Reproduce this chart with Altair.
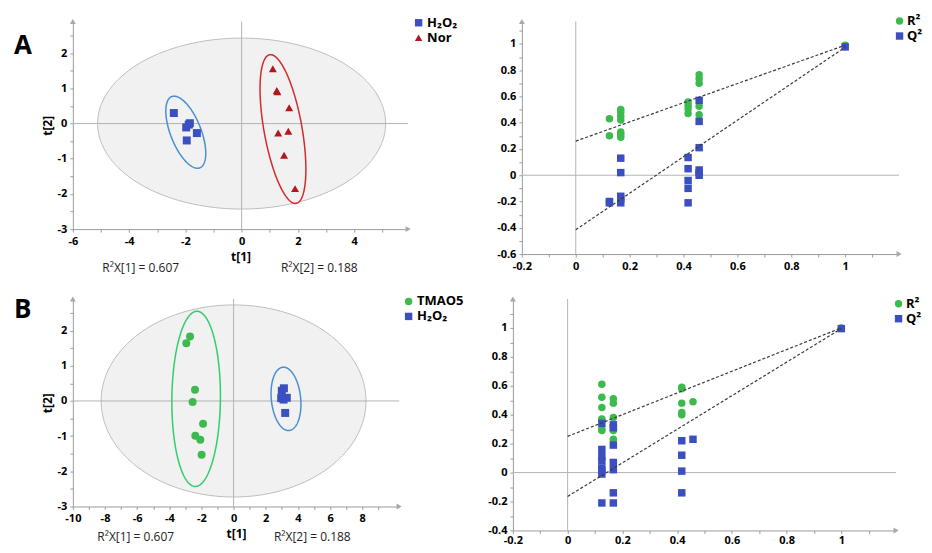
import altair as alt
import numpy as np
import pandas as pd

FONT = "Open Sans"
BLUE = "#3b4fc0"
RED = "#b3161c"
GREEN = "#3dba4e"
ELL_BLUE = "#4a90d0"
ELL_RED = "#d42a2a"
ELL_GREEN = "#2fcf6a"

# ---------------- Panel A (score plot) ----------------
a_h2o2_t1 = [-2.41, -1.84, -1.88, -1.97, -1.59, -1.95]
a_h2o2_t2 = [0.30, 0.01, -0.03, -0.11, -0.27, -0.48]
a_nor_t1 = [1.11, 1.25, 1.27, 1.69, 1.30, 1.66, 1.51, 1.90]
a_nor_t2 = [1.56, 0.94, 0.90, 0.45, -0.27, -0.22, -0.90, -1.85]
# ellipse parameters: centre x, centre y, x-radius, x-shear, y-radius
a_big_ellipse = [0.0, 0.0, 5.12, 0.0, 2.43]
a_h2o2_ellipse = [-1.985, -0.245, 0.576, -0.415, 1.025]
a_nor_ellipse = [1.47, -0.155, 0.686, -0.44, 2.115]

# ---------------- Panel B (score plot) ----------------
b_tmao_t1 = [-2.71, -2.94, -2.40, -2.55, -1.90, -2.38, -2.07, -1.99]
b_tmao_t2 = [1.83, 1.64, 0.32, -0.03, -0.65, -0.99, -1.10, -1.53]
b_h2o2_t1 = [3.13, 3.00, 2.96, 3.31, 3.11, 3.21]
b_h2o2_t2 = [0.36, 0.29, 0.08, 0.09, 0.04, -0.34]
b_big_ellipse = [0.0, 0.0, 8.24, 0.0, 2.73]
b_tmao_ellipse = [-2.33, 0.06, 1.51, 0.05, 2.49]
b_h2o2_ellipse = [3.26, 0.06, 0.917, -0.155, 0.90]

# ---------------- Permutation plot A ----------------
pa_r2_x = [0.125] * 2 + [0.167] * 7 + [0.417] * 4 + [0.458] * 5 + [1.0]
pa_r2_y = [0.43, 0.30, 0.50, 0.48, 0.45, 0.42, 0.33, 0.31, 0.29,
           0.557, 0.53, 0.505, 0.47, 0.766, 0.735, 0.70, 0.525, 0.46, 0.99]
pa_q2_x = [0.125] * 2 + [0.167] * 5 + [0.417] * 5 + [0.458] * 6 + [1.0]
pa_q2_y = [-0.20, -0.21, 0.13, 0.02, -0.16, -0.18, -0.21,
           0.135, 0.05, -0.04, -0.10, -0.21,
           0.57, 0.41, 0.21, 0.04, 0.02, 0.00, 0.977]
pa_line_x = [0.0, 1.0]
pa_r2_line = [0.26, 0.99]
pa_q2_line = [-0.415, 0.975]

# ---------------- Permutation plot B ----------------
pb_r2_x = [0.125] * 7 + [0.167] * 5 + [0.417] * 5 + [0.458] + [1.0]
pb_r2_y = [0.61, 0.52, 0.45, 0.37, 0.36, 0.30, 0.29,
           0.51, 0.48, 0.38, 0.29, 0.23,
           0.59, 0.58, 0.48, 0.415, 0.40, 0.49, 1.0]
pb_q2_x = [0.125] * 8 + [0.167] * 7 + [0.417] * 4 + [0.458] + [1.0]
pb_q2_y = [0.34, 0.16, 0.11, 0.08, 0.03, 0.015, -0.01, -0.21,
           0.33, 0.31, 0.19, 0.07, 0.02, -0.14, -0.21,
           0.22, 0.12, 0.01, -0.14, 0.23, 0.995]
pb_line_x = [0.0, 1.0]
pb_r2_line = [0.25, 1.0]
pb_q2_line = [-0.165, 0.995]

panel_letters = ["A", "B"]
r2x_texts = ["R\u00b2X[1] = 0.607", "R\u00b2X[2] = 0.188"]
H2O2 = "H\u2082O\u2082"


def ellipse_df(p, n=240):
    cx, cy, rx, sx, ry = p
    t = np.linspace(0, 2 * np.pi, n)
    return pd.DataFrame({"x": cx + rx * np.cos(t) + sx * np.sin(t),
                         "y": cy + ry * np.sin(t), "i": np.arange(n)})


def axis(values, expr, title, tpad, lpad=3):
    return alt.Axis(values=values, labelExpr=expr, title=title, grid=False,
                    domainColor="#9c9c9c", tickColor="#9c9c9c", tickSize=3,
                    labelFont=FONT, labelFontSize=11, labelFontWeight="bold",
                    labelColor="black", labelPadding=lpad, labelFlush=False,
                    labelOverlap=False,
                    titleFont=FONT, titleFontSize=12, titleFontWeight="bold",
                    titleColor="black", titlePadding=tpad)


def legend(lx, ly, off=2):
    return alt.Legend(title=None, orient="none", legendX=lx, legendY=ly,
                      labelFont=FONT, labelFontSize=13, labelFontWeight="bold",
                      labelColor="black", symbolSize=55, symbolStrokeWidth=0,
                      padding=0, rowPadding=1, labelOffset=off)


def anchor(px, py):
    # invisible layout helper that fixes the page extent
    return alt.Chart(pd.DataFrame({"a": [0]})).mark_point(
        opacity=0, size=1).encode(x=alt.value(px), y=alt.value(py))


def common_layers(xs, ys, xa, ya, xdom, ydom):
    X = lambda: alt.X("x:Q", scale=xs, axis=xa)
    Y = lambda: alt.Y("y:Q", scale=ys, axis=ya)
    zero = pd.DataFrame({"x": [0.0], "y": [0.0]})
    vline = alt.Chart(zero).mark_rule(color="#b4b4b4", strokeWidth=1).encode(x=X())
    hline = alt.Chart(zero).mark_rule(color="#b4b4b4", strokeWidth=1).encode(y=Y())
    arx = alt.Chart(pd.DataFrame({"x": [xdom[1]], "y": [ydom[0]]})).mark_point(
        shape="triangle-right", filled=True, color="#a8a8a8", size=35, opacity=1
    ).encode(x=X(), y=Y())
    ary = alt.Chart(pd.DataFrame({"x": [xdom[0]], "y": [ydom[1]]})).mark_point(
        shape="triangle-up", filled=True, color="#a8a8a8", size=35, opacity=1
    ).encode(x=X(), y=Y())
    return X, Y, vline, hline, arx, ary


def score_panel(w, h, xdom, ydom, xticks, yticks, big, ells, groups, leg, letter, letter_y,
                txt_x, txt_y, anchor_y):
    xs = alt.Scale(domain=xdom, nice=False, zero=False)
    ys = alt.Scale(domain=ydom, nice=False, zero=False)
    xa = axis(xticks, "datum.value % 2 === 0 ? '' + datum.value : ''", "t[1]", 5)
    ya = axis(yticks, "datum.value % 1 === 0 ? '' + datum.value : ''", "t[2]", 3)
    X, Y, vline, hline, arx, ary = common_layers(xs, ys, xa, ya, xdom, ydom)
    bigl = alt.Chart(ellipse_df(big)).mark_line(
        fill="#f1f1f1", stroke="#bdbdbd", strokeWidth=1
    ).encode(x=X(), y=Y(), order="i:Q")
    layers = [bigl, vline, hline]
    for p, c in ells:
        layers.append(alt.Chart(ellipse_df(p)).mark_line(stroke=c, strokeWidth=1.5)
                      .encode(x=X(), y=Y(), order="i:Q"))
    rows = []
    for name, t1, t2 in groups["data"]:
        for a, b in zip(t1, t2):
            rows.append({"x": a, "y": b, "g": name})
    pts = pd.DataFrame(rows)
    lg = legend(*leg)
    dom = [g[0] for g in groups["data"]]
    layers.append(alt.Chart(pts).mark_point(filled=True, size=64, opacity=1).encode(
        x=X(), y=Y(),
        color=alt.Color("g:N", scale=alt.Scale(domain=dom, range=groups["colors"]), legend=lg),
        shape=alt.Shape("g:N", scale=alt.Scale(domain=dom, range=groups["shapes"]), legend=lg),
    ))
    layers += [arx, ary]
    layers.append(alt.Chart(pd.DataFrame({"t": [letter]})).mark_text(
        font=FONT, fontSize=26, fontWeight="bold", color="black", align="left",
        baseline="alphabetic").encode(text="t:N", x=alt.value(-59), y=alt.value(letter_y)))
    for t, px in zip(r2x_texts, txt_x):
        layers.append(alt.Chart(pd.DataFrame({"t": [t]})).mark_text(
            font=FONT, fontSize=12, color="#222222", align="center",
            baseline="alphabetic").encode(text="t:N", x=alt.value(px), y=alt.value(txt_y)))
    layers.append(anchor(-80, anchor_y))
    return alt.layer(*layers).resolve_scale(color="independent", shape="independent").properties(width=w, height=h)


def perm_panel(w, h, xdom, ydom, xticks, yticks, r2x, r2y, q2x, q2y, lx, r2l, q2l, leg, lpad, anc=None):
    xs = alt.Scale(domain=xdom, nice=False, zero=False)
    ys = alt.Scale(domain=ydom, nice=False, zero=False)
    ex = "abs(round(datum.value * 10)) % 2 === 0 ? '' + datum.value : ''"
    xa = axis(xticks, ex, None, 3, lpad)
    ya = axis(yticks, ex, None, 3)
    X, Y, vline, hline, arx, ary = common_layers(xs, ys, xa, ya, xdom, ydom)
    ldf = pd.DataFrame({"x": lx + lx, "y": r2l + q2l, "s": ["R", "R", "Q", "Q"]})
    lines = alt.Chart(ldf).mark_line(color="#3a3a3a", strokeWidth=1.2, strokeDash=[3, 2]).encode(
        x=X(), y=Y(), detail="s:N")
    pts = pd.DataFrame({"x": r2x + q2x, "y": r2y + q2y,
                        "m": ["R\u00b2"] * len(r2x) + ["Q\u00b2"] * len(q2x)})
    lg = legend(*leg, off=1)
    dom = ["R\u00b2", "Q\u00b2"]
    p = alt.Chart(pts).mark_point(filled=True, size=56, opacity=1).encode(
        x=X(), y=Y(),
        color=alt.Color("m:N", scale=alt.Scale(domain=dom, range=[GREEN, BLUE]), legend=lg),
        shape=alt.Shape("m:N", scale=alt.Scale(domain=dom, range=["circle", "square"]), legend=lg),
    )
    layers = [vline, hline, p, lines, arx, ary]
    if anc is not None:
        layers.append(anchor(*anc))
    return alt.layer(*layers).resolve_scale(
        color="independent", shape="independent").properties(width=w, height=h)


ticks_a_x = list(range(-6, 6))
ticks_b_x = list(range(-10, 10))
ticks_y = [round(v * 0.5, 1) for v in range(-6, 6)]
perm_x = [round(v * 0.1, 1) for v in range(-2, 12)]
perm_ya = [round(v * 0.1, 1) for v in range(-6, 12)]
perm_yb = [round(v * 0.1, 1) for v in range(-4, 12)]

tl = score_panel(336, 208, [-6, 5.92], [-3, 2.9], ticks_a_x, ticks_y, a_big_ellipse,
                 [(a_h2o2_ellipse, ELL_BLUE), (a_nor_ellipse, ELL_RED)],
                 {"data": [(H2O2, a_h2o2_t1, a_h2o2_t2), ("Nor", a_nor_t1, a_nor_t2)],
                  "colors": [BLUE, RED], "shapes": ["square", "triangle-up"]},
                 (340, -5.3), panel_letters[0], 33, [68, 247], 251, -30)
tr = perm_panel(378, 233, [-0.2, 1.2], [-0.6, 1.17], perm_x, perm_ya,
                pa_r2_x, pa_r2_y, pa_q2_x, pa_q2_y, pa_line_x, pa_r2_line, pa_q2_line, (372, -7), 3)
bl = score_panel(327, 208, [-10, 10.3], [-3, 2.9], ticks_b_x, ticks_y, b_big_ellipse,
                 [(b_tmao_ellipse, ELL_GREEN), (b_h2o2_ellipse, ELL_BLUE)],
                 {"data": [("TMAO5", b_tmao_t1, b_tmao_t2), (H2O2, b_h2o2_t1, b_h2o2_t2)],
                  "colors": [GREEN, BLUE], "shapes": ["circle", "square"]},
                 (330, -4), panel_letters[1], 19, [63, 240], 243, 100)
br = perm_panel(384, 232, [-0.2, 1.2], [-0.4, 1.2], perm_x, perm_yb,
                pb_r2_x, pb_r2_y, pb_q2_x, pb_q2_y, pb_line_x, pb_r2_line, pb_q2_line, (380, -1.7), 1,
                anc=(437, 277))

row1 = alt.hconcat(tl, tr, spacing=114, bounds="flush")
row2 = alt.hconcat(bl, br, spacing=114, bounds="flush")

chart = alt.vconcat(row1, row2, spacing=21).resolve_scale(
    color="independent", shape="independent").properties(
    padding={"left": -16, "top": -18, "right": -26, "bottom": -30}, background="white"
).configure_view(stroke=None)

chart.save("out.html", embed_options={"renderer": "svg", "actions": False})
